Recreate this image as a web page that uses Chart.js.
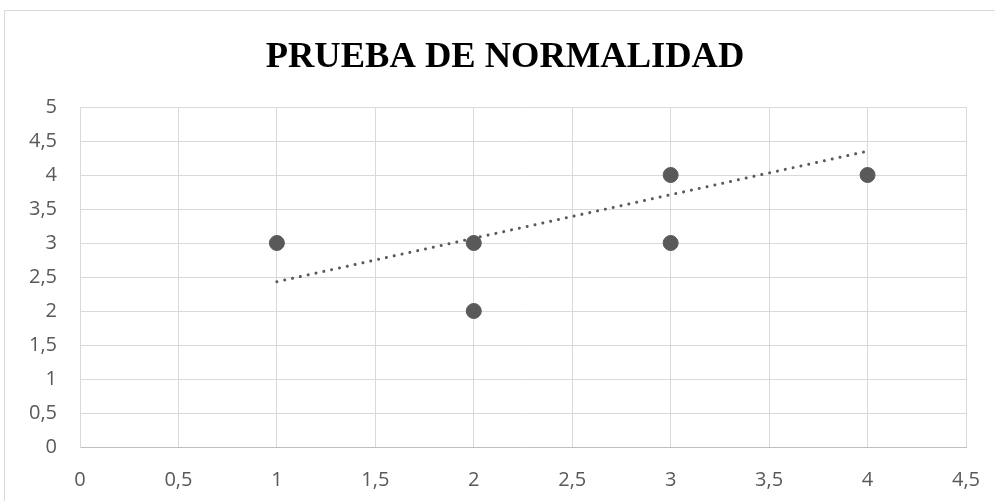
<!DOCTYPE html>
<html>
<head>
<meta charset="utf-8">
<script src="https://cdn.jsdelivr.net/npm/chart.js@4"></script>
<style>
  html, body { margin: 0; padding: 0; background: #fff; }
  #wrap { width: 995px; height: 501px; position: relative; }
</style>
</head>
<body>
<div id="wrap"><canvas id="c" width="995" height="501"></canvas></div>
<script>
// puntos observados
const xVals = [1, 2, 2, 3, 3, 4];
const yVals = [3, 3, 2, 4, 3, 4];
// linea de tendencia (extremos)
const trendX = [1, 4];
const trendY = [2.43, 4.35];

const xTicks = [0, 0.5, 1, 1.5, 2, 2.5, 3, 3.5, 4, 4.5];
const yTicks = [0, 0.5, 1, 1.5, 2, 2.5, 3, 3.5, 4, 4.5, 5];

const titulo = 'PRUEBA DE NORMALIDAD';

const fmt = v => String(v).replace('.', ',');

// marco del grafico + titulo centrado en el area total (como en excel)
const frame = {
  id: 'frame',
  beforeDraw(chart) {
    const c = chart.ctx;
    c.save();
    c.strokeStyle = '#d9d9d9';
    c.lineWidth = 1;
    c.strokeRect(4.5, 10.5, 1200, 800);
    c.fillStyle = '#000';
    c.font = 'bold 36.5px "Liberation Serif"';
    c.textAlign = 'center';
    c.textBaseline = 'alphabetic';
    c.fillText(titulo, 505, 67);
    c.restore();
  }
};

const tickFont = { family: 'Open Sans', size: 20 };

new Chart(document.getElementById('c'), {
  type: 'scatter',
  data: {
    datasets: [
      {
        label: 'datos',
        data: xVals.map((x, i) => ({ x: x, y: yVals[i] })),
        backgroundColor: '#595959',
        borderColor: '#595959',
        pointRadius: 7.5,
        pointHoverRadius: 7.5
      },
      {
        label: 'tendencia',
        type: 'line',
        data: trendX.map((x, i) => ({ x: x, y: trendY[i] })),
        borderColor: '#595959',
        borderWidth: 3,
        borderDash: [0.01, 8],
        borderCapStyle: 'round',
        pointRadius: 0,
        fill: false
      }
    ]
  },
  options: {
    responsive: false,
    animation: false,
    layout: { padding: { left: 0, right: 29, top: 107, bottom: 0 } },
    plugins: {
      legend: { display: false },
      tooltip: { enabled: false },
      title: { display: false }
    },
    scales: {
      x: {
        type: 'linear',
        min: 0,
        max: 4.5,
        afterFit: s => { s.height = 54; s.paddingLeft = 0; s.paddingRight = 0; },
        afterBuildTicks: s => { s.ticks = xTicks.map(v => ({ value: v })); },
        grid: { color: '#d9d9d9', drawTicks: false },
        border: { color: '#bfbfbf' },
        ticks: {
          color: '#595959',
          font: tickFont,
          padding: 21,
          maxRotation: 0,
          callback: v => fmt(v)
        }
      },
      y: {
        type: 'linear',
        min: 0,
        max: 5,
        afterFit: s => { s.width = 80; s.paddingTop = 0; s.paddingBottom = 0; },
        afterBuildTicks: s => { s.ticks = yTicks.map(v => ({ value: v })); },
        grid: { color: '#d9d9d9', drawTicks: false },
        border: { color: '#d9d9d9' },
        ticks: {
          color: '#595959',
          font: tickFont,
          padding: 23,
          callback: v => fmt(v)
        }
      }
    }
  },
  plugins: [frame]
});
</script>
</body>
</html>
